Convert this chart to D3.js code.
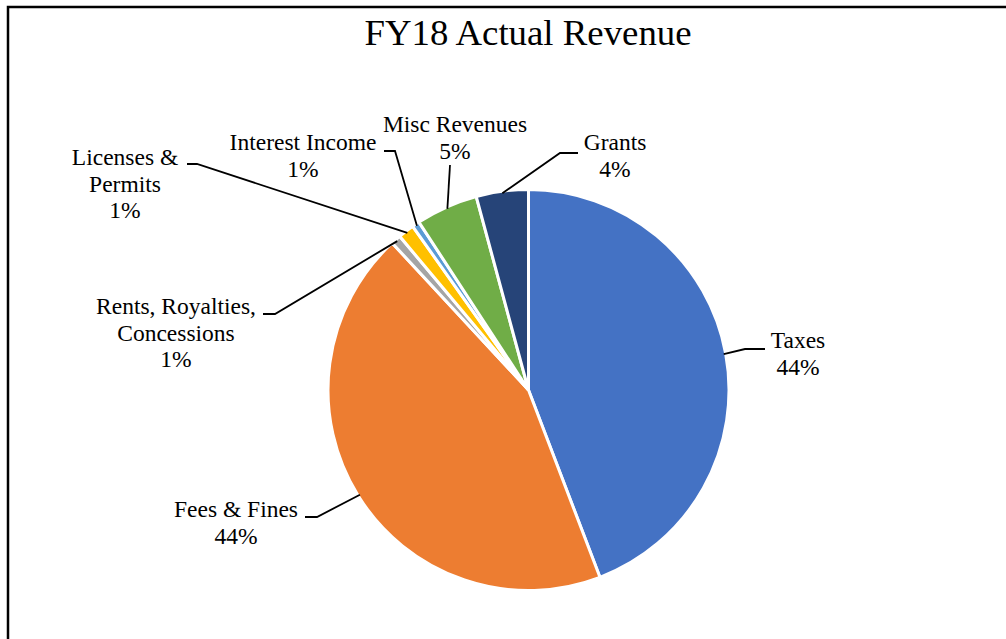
<!DOCTYPE html>
<html><head><meta charset="utf-8">
<script src="https://cdn.jsdelivr.net/npm/d3@7"></script>
<style>body{margin:0;background:#fff}svg{display:block}text{font-family:"Liberation Serif","Times New Roman",serif;fill:#000}</style>
</head><body><svg id="c" width="1006" height="639"></svg>
<script>
const categories = ["Taxes","Fees & Fines","Rents, Royalties, Concessions","Licenses & Permits","Interest Income","Misc Revenues","Grants"];
const values = [44.2, 43.9, 0.8, 1.3, 0.6, 5.0, 4.2];
const colors = ["#4472C4","#ED7D31","#A5A5A5","#FFC000","#5B9BD5","#70AD47","#264478"];
const labelLines = [["Taxes"],["Fees & Fines"],["Rents, Royalties,","Concessions"],["Licenses &","Permits"],["Interest Income"],["Misc Revenues"],["Grants"]];
const labelPos = [
  {x:798,y:348,sx:765,sy:349,ex:745},
  {x:236,y:517,sx:305,sy:517,ex:317},
  {x:176,y:314,sx:263,sy:314,ex:275},
  {x:125,y:165,sx:187,sy:164,ex:197},
  {x:303,y:150,sx:384,sy:151,ex:395},
  {x:455,y:132,sx:450,sy:165,ex:450},
  {x:615,y:150,sx:578,sy:153,ex:560}
];
const svg = d3.select("#c");
svg.append("path").attr("d","M8,640 L8,7 L1007,7").attr("fill","none").attr("stroke","#000").attr("stroke-width",2.5);
svg.append("text").attr("x",528).attr("y",45).attr("text-anchor","middle").style("font-size","36.8px").text("FY18 Actual Revenue");

const cx=528.5, cy=390, r=200.5;
const total = d3.sum(values);
const pie = d3.pie().sort(null).value(d=>d)(values);
const arc = d3.arc().innerRadius(0).outerRadius(r);
const g = svg.append("g").attr("transform",`translate(${cx},${cy})`);
g.selectAll("path").data(pie).join("path").attr("d",arc).attr("fill",(d,i)=>colors[i]).attr("stroke","#fff").attr("stroke-width",3);

pie.forEach((d,i)=>{
  const p = labelPos[i];
  const a = (d.startAngle+d.endAngle)/2;
  const ex = cx + Math.sin(a)*(r-2), ey = cy - Math.cos(a)*(r-2);
  let pts;
  if(i===5){ pts=[[ex,ey],[p.sx,p.sy]]; }
  else pts=[[ex,ey],[p.ex,p.sy],[p.sx,p.sy]];
  svg.append("path").attr("d",d3.line()(pts)).attr("fill","none").attr("stroke","#000").attr("stroke-width",1.8);
  const lines = labelLines[i].concat([Math.round(d.data/total*100)+"%"]);
  const t = svg.append("text").attr("text-anchor","middle").style("font-size","23.5px");
  lines.forEach((s,k)=>t.append("tspan").attr("x",p.x).attr("y",p.y+k*26.5).text(s));
});
</script></body></html>
